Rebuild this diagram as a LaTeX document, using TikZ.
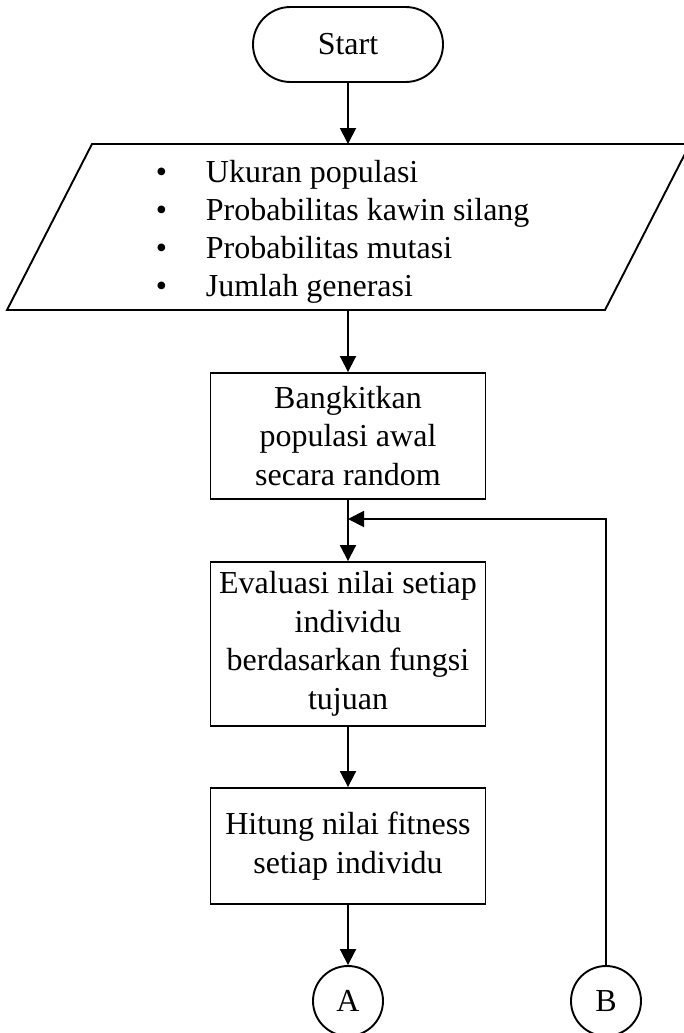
\documentclass[tikz,border=0pt]{standalone}
\usepackage{fontspec}
\setmainfont{Liberation Serif}
\usetikzlibrary{arrows.meta}
\begin{document}
\begin{tikzpicture}[x=1pt,y=-1pt,
  line width=1.9pt,
  font=\fontsize{32}{38.5}\selectfont,
  flow/.style={-{Triangle[length=16pt,width=16pt]}},
  terminal/.style={draw, rectangle, rounded corners=37.5pt,
    minimum width=190pt, minimum height=75pt, inner sep=0},
  process/.style={draw, rectangle, minimum width=275pt, align=center, inner sep=0},
  connector/.style={draw, circle, minimum size=70pt, inner sep=0},
  listitem/.style={anchor=base west, inner sep=0}]
  \useasboundingbox (0,0) rectangle (684,1033);

  % start terminal
  \node[terminal] (start) at (348,44.5) {Start};

  % input parallelogram with the parameter list
  \draw[line join=miter] (92,144) -- (690,144) -- (605,310) -- (7,310) -- cycle;
  \coordinate (inTop) at (348,144);
  \coordinate (inBot) at (348,310);
  \node[listitem] (i1) at (155,182.5) {\makebox[50pt][l]{•}Ukuran populasi};
  \node[listitem] (i2) at (155,220.5) {\makebox[50pt][l]{•}Probabilitas kawin silang};
  \node[listitem] (i3) at (155,258.5) {\makebox[50pt][l]{•}Probabilitas mutasi};
  \node[listitem] (i4) at (155,296.5) {\makebox[50pt][l]{•}Jumlah generasi};

  % process steps
  \node[process, minimum height=126pt] (b1) at (348,436)
    {Bangkitkan\\populasi awal\\secara random};
  \node[process, minimum height=164pt] (b2) at (348,644)
    {Evaluasi nilai setiap\\individu\\berdasarkan fungsi\\tujuan};
  \node[process, minimum height=116pt] (b3) at (348,846)
    {Hitung nilai fitness\\setiap individu};

  % off-page connectors
  \node[connector] (A) at (348,1001) {A};
  \node[connector] (B) at (606,1001) {B};
  \coordinate (join) at (348,519);

  % flow lines
  \draw[flow] (start.south) -- (inTop);
  \draw[flow] (inBot) -- (b1.north);
  \draw[flow] (b1.south) -- (b2.north);
  \draw[flow] (b2.south) -- (b3.north);
  \draw[flow] (b3.south) -- (A.north);
  \draw[flow] (B.north) |- (join);
\end{tikzpicture}
\end{document}
